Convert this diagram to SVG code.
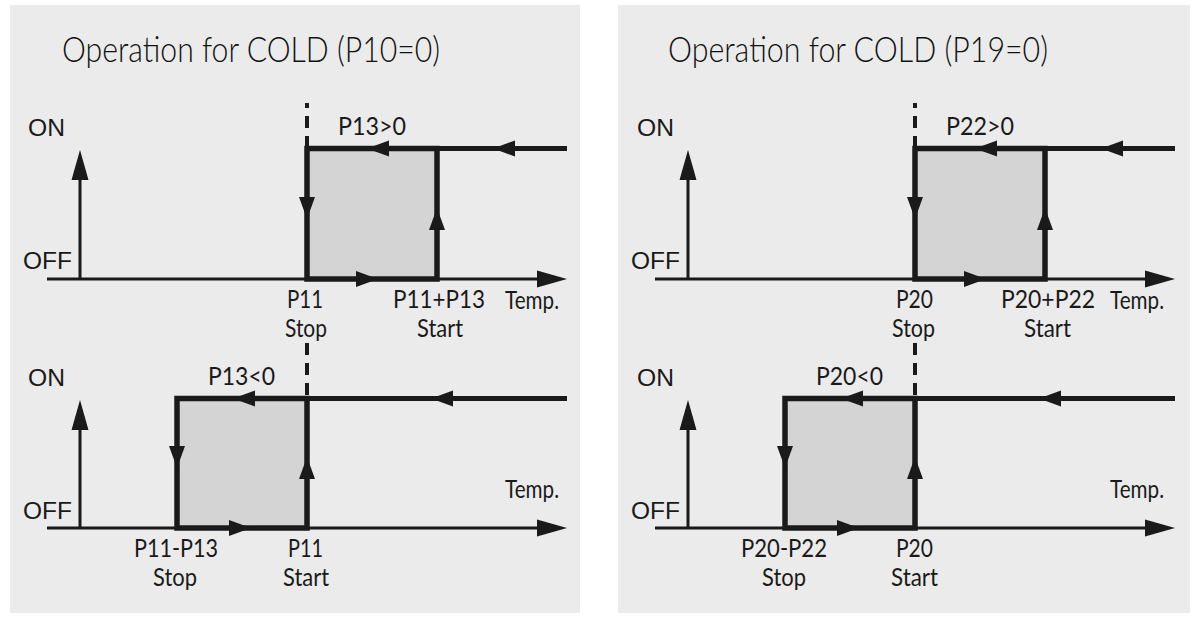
<svg xmlns="http://www.w3.org/2000/svg" width="1193" height="629" viewBox="0 0 1193 629">
<style>
.bg{fill:#ebebeb}
.box{fill:#d4d4d4;stroke:#1a1a1a;stroke-width:5.5}
.thick{fill:none;stroke:#1a1a1a;stroke-width:5}
.axis{fill:none;stroke:#1a1a1a;stroke-width:3}
.dash{fill:none;stroke:#1a1a1a;stroke-width:4;stroke-dasharray:12 8}
.hd{fill:#1a1a1a}
.title{font-family:Lato,"Open Sans",sans-serif;font-weight:300;font-size:35px;fill:#111111}
.lab{font-family:Lato,"Open Sans",sans-serif;font-weight:400;font-size:25px;fill:#1a1a1a}
.onoff{font-family:"Liberation Sans",Arial,sans-serif;font-size:24px;fill:#1a1a1a}
</style>
<defs>
<path id="ah" d="M0,0 L-22,-8 L-22,8 Z"/>
<path id="axh" d="M0,0 L-30,-8.5 L-30,8.5 Z"/>
</defs>
<rect width="1193" height="629" fill="#ffffff"/>

<g id="panel-left">
<rect class="bg" x="10" y="5" width="570" height="608"/>
<text id="title-left" class="title" x="62" y="62" textLength="378" lengthAdjust="spacingAndGlyphs">Operation for COLD (P10=0)</text>

<g id="chart-left-top">
<g id="axes-lt">
<path class="axis" d="M80,279 V176 M47,279 H540"/>
<use href="#axh" class="hd" transform="translate(80,150) rotate(-90)"/>
<use href="#axh" class="hd" transform="translate(567,279)"/>
</g>
<text class="onoff" x="28" y="135.5" textLength="37" lengthAdjust="spacingAndGlyphs">ON</text>
<text class="onoff" x="23" y="269" textLength="49" lengthAdjust="spacingAndGlyphs">OFF</text>
<g id="hyst-lt">
<rect class="box" x="307" y="148.5" width="130" height="130.5"/>
</g>
<g id="connectors-lt">
<path class="thick" d="M437,148.5 H567"/>
<path class="dash" d="M307,148 V103"/>
<use href="#ah" class="hd" transform="translate(493,148.5) rotate(180)"/>
<use href="#ah" class="hd" transform="translate(367,148.5) rotate(180)"/>
<use href="#ah" class="hd" transform="translate(307,219) rotate(90)"/>
<use href="#ah" class="hd" transform="translate(437,208) rotate(-90)"/>
<use href="#ah" class="hd" transform="translate(378,279)"/>
</g>
<text class="lab" x="338" y="135" textLength="68" lengthAdjust="spacingAndGlyphs">P13&gt;0</text>
<text class="lab" x="287" y="308" textLength="36" lengthAdjust="spacingAndGlyphs">P11</text>
<text class="lab" x="285" y="337" textLength="42" lengthAdjust="spacingAndGlyphs">Stop</text>
<text class="lab" x="393" y="308" textLength="92" lengthAdjust="spacingAndGlyphs">P11+P13</text>
<text class="lab" x="417" y="337" textLength="46" lengthAdjust="spacingAndGlyphs">Start</text>
<text class="lab" x="505" y="309" textLength="54" lengthAdjust="spacingAndGlyphs">Temp.</text>
</g>

<g id="chart-left-bottom">
<g id="axes-lb">
<path class="axis" d="M80,528 V426 M47,528 H540"/>
<use href="#axh" class="hd" transform="translate(80,400) rotate(-90)"/>
<use href="#axh" class="hd" transform="translate(567,528)"/>
</g>
<text class="onoff" x="28" y="386" textLength="37" lengthAdjust="spacingAndGlyphs">ON</text>
<text class="onoff" x="23" y="519" textLength="49" lengthAdjust="spacingAndGlyphs">OFF</text>
<g id="hyst-lb">
<rect class="box" x="177" y="398.5" width="130" height="129.5"/>
</g>
<g id="connectors-lb">
<path class="thick" d="M307,398.5 H567"/>
<path class="dash" d="M307,343 V398"/>
<use href="#ah" class="hd" transform="translate(431,398.5) rotate(180)"/>
<use href="#ah" class="hd" transform="translate(233,398.5) rotate(180)"/>
<use href="#ah" class="hd" transform="translate(177,468) rotate(90)"/>
<use href="#ah" class="hd" transform="translate(307,457) rotate(-90)"/>
<use href="#ah" class="hd" transform="translate(251,528)"/>
</g>
<text class="lab" x="208" y="385" textLength="67" lengthAdjust="spacingAndGlyphs">P13&lt;0</text>
<text class="lab" x="505" y="498" textLength="54" lengthAdjust="spacingAndGlyphs">Temp.</text>
<text class="lab" x="134" y="557" textLength="84" lengthAdjust="spacingAndGlyphs">P11-P13</text>
<text class="lab" x="153" y="586" textLength="44" lengthAdjust="spacingAndGlyphs">Stop</text>
<text class="lab" x="288" y="557" textLength="35" lengthAdjust="spacingAndGlyphs">P11</text>
<text class="lab" x="283" y="586" textLength="46" lengthAdjust="spacingAndGlyphs">Start</text>
</g>
</g>

<g id="panel-right">
<rect class="bg" x="618" y="5" width="572" height="608"/>
<text id="title-right" class="title" x="668" y="62" textLength="380" lengthAdjust="spacingAndGlyphs">Operation for COLD (P19=0)</text>

<g id="chart-right-top">
<g id="axes-rt">
<path class="axis" d="M688,279 V176 M655,279 H1148"/>
<use href="#axh" class="hd" transform="translate(688,150) rotate(-90)"/>
<use href="#axh" class="hd" transform="translate(1175,279)"/>
</g>
<text class="onoff" x="637" y="135.5" textLength="37" lengthAdjust="spacingAndGlyphs">ON</text>
<text class="onoff" x="631" y="269" textLength="49" lengthAdjust="spacingAndGlyphs">OFF</text>
<g id="hyst-rt">
<rect class="box" x="915" y="148.5" width="130" height="130.5"/>
</g>
<g id="connectors-rt">
<path class="thick" d="M1045,148.5 H1175"/>
<path class="dash" d="M915,148 V103"/>
<use href="#ah" class="hd" transform="translate(1101,148.5) rotate(180)"/>
<use href="#ah" class="hd" transform="translate(975,148.5) rotate(180)"/>
<use href="#ah" class="hd" transform="translate(915,219) rotate(90)"/>
<use href="#ah" class="hd" transform="translate(1045,208) rotate(-90)"/>
<use href="#ah" class="hd" transform="translate(986,279)"/>
</g>
<text class="lab" x="946" y="135" textLength="68" lengthAdjust="spacingAndGlyphs">P22&gt;0</text>
<text class="lab" x="896" y="308" textLength="37" lengthAdjust="spacingAndGlyphs">P20</text>
<text class="lab" x="892" y="337" textLength="43" lengthAdjust="spacingAndGlyphs">Stop</text>
<text class="lab" x="1001" y="308" textLength="94" lengthAdjust="spacingAndGlyphs">P20+P22</text>
<text class="lab" x="1024" y="337" textLength="47" lengthAdjust="spacingAndGlyphs">Start</text>
<text class="lab" x="1110" y="309" textLength="54" lengthAdjust="spacingAndGlyphs">Temp.</text>
</g>

<g id="chart-right-bottom">
<g id="axes-rb">
<path class="axis" d="M688,528 V426 M655,528 H1148"/>
<use href="#axh" class="hd" transform="translate(688,400) rotate(-90)"/>
<use href="#axh" class="hd" transform="translate(1175,528)"/>
</g>
<text class="onoff" x="637" y="386" textLength="37" lengthAdjust="spacingAndGlyphs">ON</text>
<text class="onoff" x="631" y="519" textLength="49" lengthAdjust="spacingAndGlyphs">OFF</text>
<g id="hyst-rb">
<rect class="box" x="785" y="398.5" width="130" height="129.5"/>
</g>
<g id="connectors-rb">
<path class="thick" d="M915,398.5 H1175"/>
<path class="dash" d="M915,343 V398"/>
<use href="#ah" class="hd" transform="translate(1039,398.5) rotate(180)"/>
<use href="#ah" class="hd" transform="translate(841,398.5) rotate(180)"/>
<use href="#ah" class="hd" transform="translate(785,468) rotate(90)"/>
<use href="#ah" class="hd" transform="translate(915,457) rotate(-90)"/>
<use href="#ah" class="hd" transform="translate(859,528)"/>
</g>
<text class="lab" x="816" y="385" textLength="67" lengthAdjust="spacingAndGlyphs">P20&lt;0</text>
<text class="lab" x="1110" y="498" textLength="54" lengthAdjust="spacingAndGlyphs">Temp.</text>
<text class="lab" x="741" y="557" textLength="86" lengthAdjust="spacingAndGlyphs">P20-P22</text>
<text class="lab" x="762" y="586" textLength="44" lengthAdjust="spacingAndGlyphs">Stop</text>
<text class="lab" x="896" y="557" textLength="37" lengthAdjust="spacingAndGlyphs">P20</text>
<text class="lab" x="891" y="586" textLength="47" lengthAdjust="spacingAndGlyphs">Start</text>
</g>
</g>
</svg>
